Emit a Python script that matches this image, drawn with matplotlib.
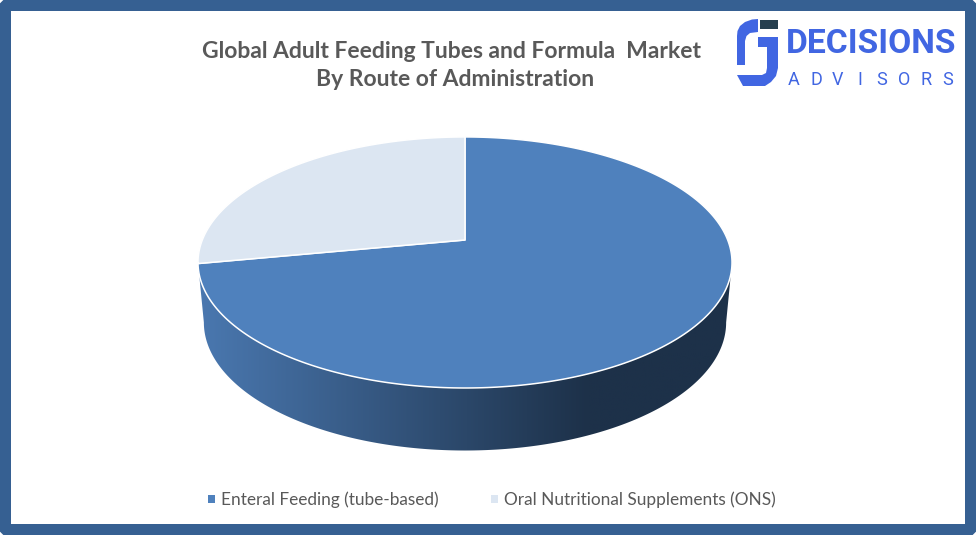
import numpy as np
import matplotlib
matplotlib.use("Agg")
import matplotlib.pyplot as plt
from matplotlib.colors import LinearSegmentedColormap
from matplotlib.patches import FancyBboxPatch, Patch, Polygon, Rectangle

plt.rcParams['font.family'] = ['Lato', 'DejaVu Sans']

title_lines = ["Global Adult Feeding Tubes and Formula  Market", "By Route of Administration"]
categories = ["Enteral Feeding (tube-based)", "Oral Nutritional Supplements (ONS)"]
shares = [72, 28]
colors = ["#4f81bd", "#dce6f2"]

frame_blue = "#366092"
grey = "#595959"
logo_blue = "#4166e2"

# pie geometry in pixels, the tilt is a simple perspective projection
cx, cy = 465, 240
a, b, k = 121.5, 262.7, 0.179
drop = 60


def project(t):
    x_, y_ = np.sin(t), -np.cos(t)
    return cx + b * x_ / (1 - k * y_), cy + a * y_ / (1 - k * y_)


def slice_points(start, end):
    t = np.linspace(start, end, 300)
    x, y = project(t)
    return np.r_[cx, x], np.r_[cy, y]


fig = plt.figure(figsize=(9.76, 5.35), dpi=100)
ax = fig.add_axes([0, 0, 1, 1])

# frame
ax.add_patch(FancyBboxPatch((4, 4), 968, 527, boxstyle="round,pad=0,rounding_size=6",
                            fc=frame_blue, ec=frame_blue, lw=8))
ax.add_patch(Rectangle((11, 11), 954, 513, fc="white", ec="none"))

# side wall, front half of the rim pushed down (starts at the widest point of the face)
widest = np.arccos(-k)
t = np.linspace(widest, 2 * np.pi - widest, 400)
tx, ty = project(t)
rx = cx + (tx - cx) * 0.978
ry = cy + drop + 22.5 + (ty - cy - 22.5) * 1.02
wall = Polygon(np.c_[np.r_[tx, rx[::-1]], np.r_[ty, ry[::-1]]], closed=True, fc="none", ec="none")
ax.add_patch(wall)
shade = LinearSegmentedColormap.from_list("wall", [(0, "#4a78b0"), (0.73, "#1d3149"), (1, "#1d3149")])
img = ax.imshow(np.linspace(0, 1, 256)[None, :], extent=(198, 732, 460, 250), cmap=shade,
                aspect="auto", zorder=2)
img.set_clip_path(wall)

# top face
edges = np.r_[0, np.cumsum(shares)] / sum(shares) * 2 * np.pi
for i in range(len(shares)):
    x, y = slice_points(edges[i], edges[i + 1])
    ax.add_patch(Polygon(np.c_[x, y], closed=True, fc=colors[i], ec="white", lw=1.1,
                         joinstyle="round", zorder=3))

ax.text(452, 57.5, title_lines[0], ha="center", va="baseline", fontsize=16.5, fontweight="bold", color=grey)
ax.text(455, 86.5, title_lines[1], ha="center", va="baseline", fontsize=16.5, fontweight="bold", color=grey)

handles = [Patch(fc=c, ec="none") for c in colors]
ax.legend(handles, categories, loc="center", bbox_to_anchor=(492, 500),
          bbox_transform=ax.transData, ncol=2, frameon=False, fontsize=12.45,
          labelcolor=grey, handlelength=0.4, handleheight=0.4, handletextpad=0.35,
          columnspacing=3.05, borderpad=0)

# logo
bracket_l = [(758, 19), (752, 19.5), (745, 22), (740, 26), (737.5, 31), (737, 36), (737, 65), (745, 65),
             (745, 41), (746.5, 36), (750, 33), (758, 32)]
bracket_r = [(758, 37), (778, 37), (778, 68), (776, 76), (771, 82), (765, 86), (743, 86), (737, 75),
             (762, 75), (766, 73), (767, 68), (767, 47), (758, 47)]
ax.add_patch(Polygon(bracket_l, closed=True, fc=logo_blue, ec="none"))
ax.add_patch(Polygon(bracket_r, closed=True, fc=logo_blue, ec="none"))
ax.add_patch(Rectangle((760, 20), 18, 9, fc="#263f4f", ec="none"))

ax.text(871.5, 53, "DECISIONS", ha="center", va="baseline", fontsize=24.2, fontweight="bold",
        color=logo_blue, family="Roboto")
for letter, lx in zip("ADVISORS", np.linspace(794, 948, 8)):
    ax.text(lx, 85, letter, ha="center", va="baseline", fontsize=13,
            color=logo_blue, family="Roboto")

ax.set_xlim(0, 976)
ax.set_ylim(535, 0)
ax.axis("off")
fig.savefig("out.png", dpi=100, facecolor="white")
